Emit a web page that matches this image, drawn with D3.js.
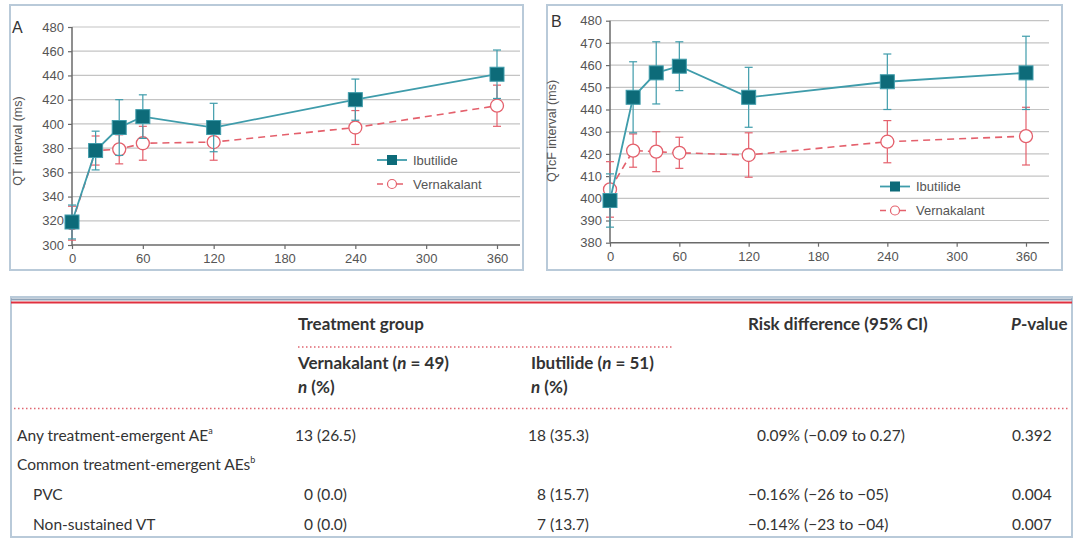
<!DOCTYPE html>
<html>
<head>
<meta charset="utf-8">
<script src="https://cdn.jsdelivr.net/npm/d3@7"></script>
<style>
  html, body { margin: 0; padding: 0; background: #fff; }
  svg { display: block; }
</style>
</head>
<body>
<svg id="chart" width="1080" height="548"></svg>
<script>
// ---------- DATA ----------
const times = [0, 20, 40, 60, 120, 240, 360];
const xTicks = [0, 60, 120, 180, 240, 300, 360];

const qtIbutilide      = [319, 378, 397, 406, 397, 420, 441];
const qtIbutilideErr   = [14, 16, 23, 18, 20, 17, 20];
const qtVernakalant    = [318, 378, 379, 384, 385, 397, 415];
const qtVernakalantErr = [14, 12, 12, 14, 15, 14, 17];
const qtTicks = [300, 320, 340, 360, 380, 400, 420, 440, 460, 480];

const qtcfIbutilide      = [399, 445.5, 456.5, 459.5, 445.5, 452.5, 456.5];
const qtcfIbutilideErr   = [12, 16, 14, 11, 13.5, 12.5, 16.5];
const qtcfVernakalant    = [404, 421.5, 421, 420.5, 419.5, 425.5, 428];
const qtcfVernakalantErr = [12.5, 7.5, 9, 7, 10, 9.5, 13];
const qtcfTicks = [380, 390, 400, 410, 420, 430, 440, 450, 460, 470, 480];

const seriesNames = ["Ibutilide", "Vernakalant"];

// table
const headTreatment = "Treatment group";
const headRisk = "Risk difference (95% CI)";
const rowLabels = ["Any treatment-emergent AE", "Common treatment-emergent AEs", "PVC", "Non-sustained VT"];
const rowSup = ["a", "b", "", ""];
const rowIndent = [false, false, true, true];
const vernakalantCells = ["13 (26.5)", "", "0 (0.0)", "0 (0.0)"];
const ibutilideCells   = ["18 (35.3)", "", "8 (15.7)", "7 (13.7)"];
const riskCells = ["0.09% (\u22120.09 to 0.27)", "", "\u22120.16% (\u221226 to \u221205)", "\u22120.14% (\u221223 to \u221204)"];
const pCells = ["0.392", "", "0.004", "0.007"];

// ---------- STYLE ----------
const TEAL_LINE = "#3f9cab";
const TEAL_FILL = "#0d6b79";
const RED = "#e4606c";
const GRID = "#c4c4c4";
const AXIS = "#6a6a6a";
const TXT = "#555";
const BORDER = "#b9cad9";
const chartFont = "'Liberation Sans', Arial, sans-serif";
const tableFont = "Lato, 'Open Sans', sans-serif";

const svg = d3.select("#chart");
svg.append("rect").attr("width", 1080).attr("height", 548).attr("fill", "#fff");

function panel(opt) {
  const g = svg.append("g");
  g.append("rect").attr("x", opt.box[0]).attr("y", opt.box[1])
    .attr("width", opt.box[2]).attr("height", opt.box[3])
    .attr("fill", "#fff").attr("stroke", BORDER).attr("stroke-width", 2);

  const x = d3.scaleLinear().domain([0, 360]).range(opt.xr);
  const y = d3.scaleLinear().domain(opt.yd).range(opt.yr);

  g.append("g").selectAll("line").data(opt.yTicks.slice(1)).join("line")
    .attr("x1", opt.xr[0]).attr("x2", opt.gridEnd)
    .attr("y1", d => y(d)).attr("y2", d => y(d))
    .attr("stroke", GRID).attr("stroke-width", 1.2);

  const ya = d3.axisLeft(y).tickValues(opt.yTicks).tickSize(4).tickPadding(4);
  const yg = g.append("g").attr("transform", `translate(${opt.xr[0]},0)`).call(ya);
  const xa = d3.axisBottom(x).tickValues(xTicks).tickSize(4).tickPadding(5);
  const xg = g.append("g").attr("transform", `translate(0,${opt.yr[0]})`).call(xa);
  [yg, xg].forEach(a => {
    a.selectAll("path").remove();
    a.selectAll("line").attr("stroke", AXIS).attr("stroke-width", 1.2);
    a.selectAll("text").attr("fill", TXT).attr("font-size", 13).attr("font-family", chartFont);
  });
  g.append("line").attr("x1", opt.xr[0]).attr("x2", opt.gridEnd)
    .attr("y1", opt.yr[0]).attr("y2", opt.yr[0]).attr("stroke", AXIS).attr("stroke-width", 1.5);
  g.append("line").attr("x1", opt.xr[0]).attr("x2", opt.xr[0])
    .attr("y1", opt.yr[0]).attr("y2", opt.yr[1]).attr("stroke", AXIS).attr("stroke-width", 1.5);

  g.append("text").attr("transform", `translate(${opt.titleX},${opt.titleY}) rotate(-90)`)
    .attr("text-anchor", "middle").attr("font-size", 12.5).attr("fill", TXT)
    .attr("font-family", chartFont).text(opt.yTitle);
  g.append("text").attr("x", opt.letterX).attr("y", opt.letterY)
    .attr("font-size", 16).attr("fill", "#333").attr("font-family", chartFont).text(opt.letter);

  const line = d3.line().x((d, i) => x(times[i])).y(d => y(d));

  function errBars(vals, errs, color) {
    const eg = g.append("g");
    times.forEach((t, i) => {
      const cx = x(t), hi = y(vals[i] + errs[i]), lo = y(vals[i] - errs[i]);
      eg.append("line").attr("x1", cx).attr("x2", cx).attr("y1", hi).attr("y2", lo)
        .attr("stroke", color).attr("stroke-width", 1.2);
      [hi, lo].forEach(yy => eg.append("line").attr("x1", cx - 4).attr("x2", cx + 4)
        .attr("y1", yy).attr("y2", yy).attr("stroke", color).attr("stroke-width", 1.2));
    });
  }

  errBars(opt.vern, opt.vernErr, RED);
  g.append("path").datum(opt.vern).attr("d", line).attr("fill", "none")
    .attr("stroke", RED).attr("stroke-width", 1.6).attr("stroke-dasharray", "7,5");
  g.append("g").selectAll("circle").data(opt.vern).join("circle")
    .attr("cx", (d, i) => x(times[i])).attr("cy", d => y(d)).attr("r", 6.5)
    .attr("fill", "#fff").attr("stroke", RED).attr("stroke-width", 1.3);

  errBars(opt.ibu, opt.ibuErr, TEAL_LINE);
  g.append("path").datum(opt.ibu).attr("d", line).attr("fill", "none")
    .attr("stroke", TEAL_LINE).attr("stroke-width", 1.8);
  const s = 14;
  g.append("g").selectAll("rect").data(opt.ibu).join("rect")
    .attr("x", (d, i) => x(times[i]) - s / 2).attr("y", d => y(d) - s / 2)
    .attr("width", s).attr("height", s)
    .attr("fill", TEAL_FILL).attr("stroke", TEAL_LINE).attr("stroke-width", 1);

  const lg = g.append("g").attr("transform", `translate(${opt.legX},${opt.legY})`);
  lg.append("line").attr("x1", 0).attr("x2", 30).attr("y1", 0).attr("y2", 0)
    .attr("stroke", TEAL_LINE).attr("stroke-width", 1.8);
  lg.append("rect").attr("x", 10).attr("y", -5).attr("width", 10).attr("height", 10).attr("fill", TEAL_FILL);
  lg.append("text").attr("x", 36).attr("y", 4.5).attr("font-size", 13).attr("fill", TXT)
    .attr("font-family", chartFont).text(seriesNames[0]);
  lg.append("line").attr("x1", 0).attr("x2", 30).attr("y1", 24).attr("y2", 24)
    .attr("stroke", RED).attr("stroke-width", 1.6).attr("stroke-dasharray", "6,4");
  lg.append("circle").attr("cx", 15).attr("cy", 24).attr("r", 4.5)
    .attr("fill", "#fff").attr("stroke", RED).attr("stroke-width", 1.2);
  lg.append("text").attr("x", 36).attr("y", 28.5).attr("font-size", 13).attr("fill", TXT)
    .attr("font-family", chartFont).text(seriesNames[1]);
}

panel({
  box: [10, 5, 513, 265], xr: [72, 497], gridEnd: 520, yd: [300, 480], yr: [245, 27],
  yTicks: qtTicks, yTitle: "QT interval (ms)", titleX: 22, titleY: 141,
  letter: "A", letterX: 12, letterY: 33,
  ibu: qtIbutilide, ibuErr: qtIbutilideErr, vern: qtVernakalant, vernErr: qtVernakalantErr,
  legX: 377, legY: 160
});

panel({
  box: [547, 5, 515, 265], xr: [610, 1026], gridEnd: 1049, yd: [380, 480], yr: [242.7, 20.7],
  yTicks: qtcfTicks, yTitle: "QTcF interval (ms)", titleX: 556, titleY: 131,
  letter: "B", letterX: 551, letterY: 27,
  ibu: qtcfIbutilide, ibuErr: qtcfIbutilideErr, vern: qtcfVernakalant, vernErr: qtcfVernakalantErr,
  legX: 880, legY: 186.5
});

// ---------- TABLE ----------
const t = svg.append("g").attr("font-family", tableFont).attr("fill", "#333");
t.append("rect").attr("x", 11).attr("y", 297).attr("width", 1061).attr("height", 240)
  .attr("fill", "#fff").attr("stroke", BORDER).attr("stroke-width", 2);
t.append("line").attr("x1", 11).attr("x2", 1072).attr("y1", 299.5).attr("y2", 299.5)
  .attr("stroke", "#8fa3b8").attr("stroke-width", 2);
t.append("line").attr("x1", 11).attr("x2", 1072).attr("y1", 302.5).attr("y2", 302.5)
  .attr("stroke", "#e0303f").attr("stroke-width", 2.2);

function dotted(x1, x2, yy) {
  t.append("line").attr("x1", x1).attr("x2", x2).attr("y1", yy).attr("y2", yy)
    .attr("stroke", "#e06670").attr("stroke-width", 1.5).attr("stroke-dasharray", "1.5,2.5");
}
dotted(298, 672, 347);
dotted(14, 1070, 408.5);

const hs = 17;
t.append("text").attr("x", 298).attr("y", 330).attr("font-size", hs).attr("font-weight", 700).text(headTreatment);
t.append("text").attr("x", 748).attr("y", 330).attr("font-size", hs).attr("font-weight", 700).text(headRisk);
const pv = t.append("text").attr("x", 1011).attr("y", 330).attr("font-size", hs).attr("font-weight", 700);
pv.append("tspan").attr("font-style", "italic").text("P");
pv.append("tspan").text("-value");

function groupHead(xx, name, n) {
  const tx = t.append("text").attr("x", xx).attr("y", 369).attr("font-size", hs).attr("font-weight", 700);
  tx.append("tspan").text(name + " (");
  tx.append("tspan").attr("font-style", "italic").text("n");
  tx.append("tspan").text(" = " + n + ")");
  const t2 = t.append("text").attr("x", xx).attr("y", 393).attr("font-size", hs).attr("font-weight", 700);
  t2.append("tspan").attr("font-style", "italic").text("n");
  t2.append("tspan").text(" (%)");
}
groupHead(298, "Vernakalant", 49);
groupHead(531, "Ibutilide", 51);

const rowY = [441, 470, 500, 530];
const bs = 15.5;
rowLabels.forEach((lab, i) => {
  const tx = t.append("text").attr("x", rowIndent[i] ? 33 : 17).attr("y", rowY[i]).attr("font-size", bs).text(lab);
  if (rowSup[i]) tx.append("tspan").attr("font-size", 9).attr("dy", -7).text(rowSup[i]);
});

function splitCell(arr, anchorX) {
  arr.forEach((c, i) => {
    if (!c) return;
    const k = c.indexOf(" ");
    t.append("text").attr("x", anchorX).attr("y", rowY[i]).attr("font-size", bs)
      .attr("text-anchor", "end").text(c.slice(0, k));
    t.append("text").attr("x", anchorX + 4).attr("y", rowY[i]).attr("font-size", bs)
      .text(c.slice(k + 1));
  });
}
splitCell(vernakalantCells, 313);
splitCell(ibutilideCells, 546);
splitCell(riskCells, 800);
pCells.forEach((c, i) => {
  if (!c) return;
  t.append("text").attr("x", 1012).attr("y", rowY[i]).attr("font-size", bs).text(c);
});
</script>
</body>
</html>
